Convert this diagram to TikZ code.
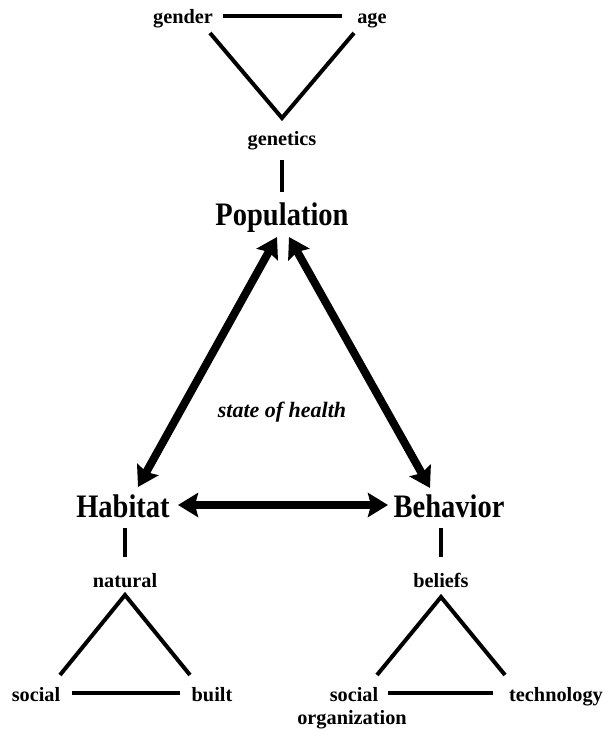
\documentclass[tikz,border=0pt]{standalone}
\usepackage{fontspec}
\setmainfont{Liberation Serif}
\usetikzlibrary{arrows.meta}
\begin{document}
\begin{tikzpicture}[x=1pt,y=-1pt,
  small/.style={font=\fontsize{20.3}{24}\selectfont\bfseries, inner sep=0pt, anchor=base},
  big/.style={font=\fontsize{28.5}{32}\selectfont\bfseries, inner sep=0pt, anchor=base},
  slant/.style={font=\fontsize{22}{24}\selectfont\bfseries\itshape, inner sep=0pt, anchor=base},
  thinline/.style={line width=4pt, line join=miter},
  bigarrow/.style={line width=8pt,
    {Stealth[length=20pt,width=24pt,inset=3pt]}-{Stealth[length=20pt,width=24pt,inset=3pt]}}]
\useasboundingbox (0,0) rectangle (604,731);

% labels
\node[small] (gender) at (183,23) {gender};
\node[small] (age) at (372,23) {age};
\node[small] (genetics) at (282,145) {genetics};
\node[big] (pop) at (282,225) {\scalebox{1}[1.15]{Population}};
\node[big] (hab) at (123,517) {\scalebox{1}[1.15]{Habitat}};
\node[big] (beh) at (449,517) {\scalebox{1}[1.15]{Behavior}};
\node[slant] (soh) at (282,417) {state of health};
\node[small] (natural) at (125,587) {natural};
\node[small] (beliefs) at (441,587) {beliefs};
\node[small] (socl) at (36,701) {social};
\node[small] (built) at (212,701) {built};
\node[small] (socr) at (354,701) {social};
\node[small] (org) at (352,724) {organization};
\node[small] (tech) at (556,701) {technology};

% connector end points
\coordinate (gA) at (223,16);
\coordinate (gB) at (342,16);
\coordinate (vL) at (210,33);
\coordinate (vM) at (282,118);
\coordinate (vR) at (354,33);
\coordinate (b1a) at (282,160);
\coordinate (b1b) at (282,192);
\coordinate (b2a) at (125,528);
\coordinate (b2b) at (125,557);
\coordinate (b3a) at (441,528);
\coordinate (b3b) at (441,557);
\coordinate (lA) at (125,595);
\coordinate (lL) at (60,675);
\coordinate (lR) at (190,675);
\coordinate (lbA) at (72,693);
\coordinate (lbB) at (180,693);
\coordinate (rA) at (441,597);
\coordinate (rL) at (377,675);
\coordinate (rR) at (505,675);
\coordinate (rbA) at (388,693);
\coordinate (rbB) at (493,693);
\coordinate (pH) at (277,237);
\coordinate (hP) at (138,487);
\coordinate (pB) at (289,237);
\coordinate (bP) at (430,488);
\coordinate (hB) at (178,505);
\coordinate (bH) at (388,505);

% thin lines
\draw[thinline] (gA) -- (gB);
\draw[thinline] (vL) -- (vM) -- (vR);
\draw[thinline] (b1a) -- (b1b);
\draw[thinline] (b2a) -- (b2b);
\draw[thinline] (b3a) -- (b3b);
\draw[thinline] (lL) -- (lA) -- (lR);
\draw[thinline] (lbA) -- (lbB);
\draw[thinline] (rL) -- (rA) -- (rR);
\draw[thinline] (rbA) -- (rbB);

% big arrows
\draw[bigarrow] (pH) -- (hP);
\draw[bigarrow] (pB) -- (bP);
\draw[bigarrow] (hB) -- (bH);
\end{tikzpicture}
\end{document}
